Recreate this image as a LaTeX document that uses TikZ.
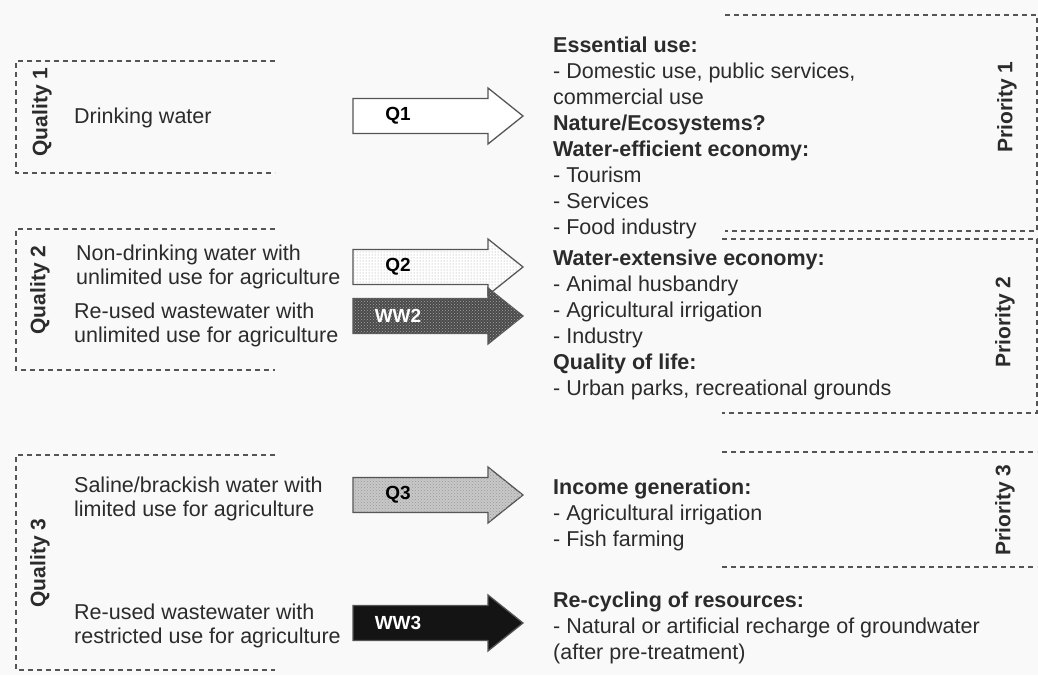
\documentclass[tikz,border=0pt]{standalone}
\usepackage{fontspec}
\setmainfont{Liberation Sans}
\usetikzlibrary{patterns}
\definecolor{bg}{HTML}{F9F9F9}
\definecolor{txt}{HTML}{2B2B2B}
\definecolor{dashc}{HTML}{555555}
\definecolor{ww2c}{HTML}{4A4A4A}
\definecolor{q3c}{HTML}{C8C8C8}
\definecolor{ww3c}{HTML}{141414}
\tikzset{
  dashbox/.style={draw=dashc, line width=1.3pt, dash pattern=on 5pt off 4pt},
  lefttext/.style={font=\fontsize{21.5}{24}\selectfont, text=txt, inner sep=0pt, anchor=north west, align=left},
  righttext/.style={font=\fontsize{21.5}{26}\selectfont, text=txt, inner sep=0pt, anchor=north west, align=left},
  sidelabel/.style={font=\bfseries\fontsize{21}{24}\selectfont, text=txt, rotate=90, inner sep=0pt},
  arrowline/.style={draw=dashc, line width=1.3pt, line join=miter},
  arrowlabel/.style={font=\bfseries\fontsize{19}{22}\selectfont, inner sep=0pt},
  q1fill/.style={fill=white},
  q2fill/.style={fill=white, postaction={pattern=dots, pattern color=gray!80}},
  ww2fill/.style={fill=ww2c, postaction={pattern=crosshatch dots, pattern color=gray!70}},
  q3fill/.style={fill=q3c, postaction={pattern=crosshatch dots, pattern color=gray!80}},
  ww3fill/.style={fill=ww3c},
}
% #1 y-centre, #2 fill style, #3 node name, #4 label, #5 label colour
\newcommand{\blockarr}[5]{%
  \draw[arrowline,#2] (353,#1-17.5) -- (488,#1-17.5) -- (488,#1-28) -- (523,#1)
    -- (488,#1+28) -- (488,#1+17.5) -- (353,#1+17.5) -- cycle;
  \node[arrowlabel, text=#5] (#3) at (398,#1) {#4};}
\begin{document}
\begin{tikzpicture}[x=1pt,y=-1pt]
\fill[bg] (0,0) rectangle (1038,675);
\useasboundingbox (0,0) rectangle (1038,675);

% left dashed boxes (open on the right)
\draw[dashbox] (275,61) -- (16,61) -- (16,173) -- (275,173);
\draw[dashbox] (275,229) -- (16,229) -- (16,370) -- (275,370);
\draw[dashbox] (275,455) -- (16,455) -- (16,670) -- (275,670);

% right dashed boxes (open on the left)
\draw[dashbox] (725,15) -- (1037,15) -- (1037,231) -- (725,231);
\draw[dashbox] (722,239) -- (1037,239) -- (1037,413) -- (722,413);
\draw[dashbox] (722,452) -- (1037,452);
\draw[dashbox] (722,567) -- (1037,567);

% side labels
\node[sidelabel] (qual1) at (42,112) {Quality 1};
\node[sidelabel] (qual2) at (40,290) {Quality 2};
\node[sidelabel] (qual3) at (40,563) {Quality 3};
\node[sidelabel] (prio1) at (1007,107) {Priority 1};
\node[sidelabel] (prio2) at (1005,322) {Priority 2};
\node[sidelabel] (prio3) at (1005,510) {Priority 3};

% left texts
\node[lefttext] (drink) at (74,108) {Drinking water};
\node[lefttext] (nondrink) at (76,245) {Non-drinking water with\\unlimited use for agriculture};
\node[lefttext] (reuse2) at (74,303) {Re-used wastewater with\\unlimited use for agriculture};
\node[lefttext] (saline) at (74,477) {Saline/brackish water with\\limited use for agriculture};
\node[lefttext] (reuse3) at (74,604) {Re-used wastewater with\\restricted use for agriculture};

% arrows
\blockarr{116}{q1fill}{q1}{Q1}{black}
\blockarr{267}{q2fill}{q2}{Q2}{black}
\blockarr{316}{ww2fill}{ww2}{WW2}{white}
\blockarr{495}{q3fill}{q3}{Q3}{black}
\blockarr{623}{ww3fill}{ww3}{WW3}{white}

% right texts
\node[righttext] (use1) at (553,37) {\textbf{Essential use:}\\- Domestic use, public services,\\commercial use\\\textbf{Nature/Ecosystems?}\\\textbf{Water-efficient economy:}\\- Tourism\\- Services\\- Food industry};
\node[righttext] (use2) at (553,250) {\textbf{Water-extensive economy:}\\- Animal husbandry\\- Agricultural irrigation\\- Industry\\\textbf{Quality of life:}\\- Urban parks, recreational grounds};
\node[righttext] (use3) at (553,479) {\textbf{Income generation:}\\- Agricultural irrigation\\- Fish farming};
\node[righttext] (use4) at (553,592) {\textbf{Re-cycling of resources:}\\- Natural or artificial recharge of groundwater\\(after pre-treatment)};
\end{tikzpicture}
\end{document}
